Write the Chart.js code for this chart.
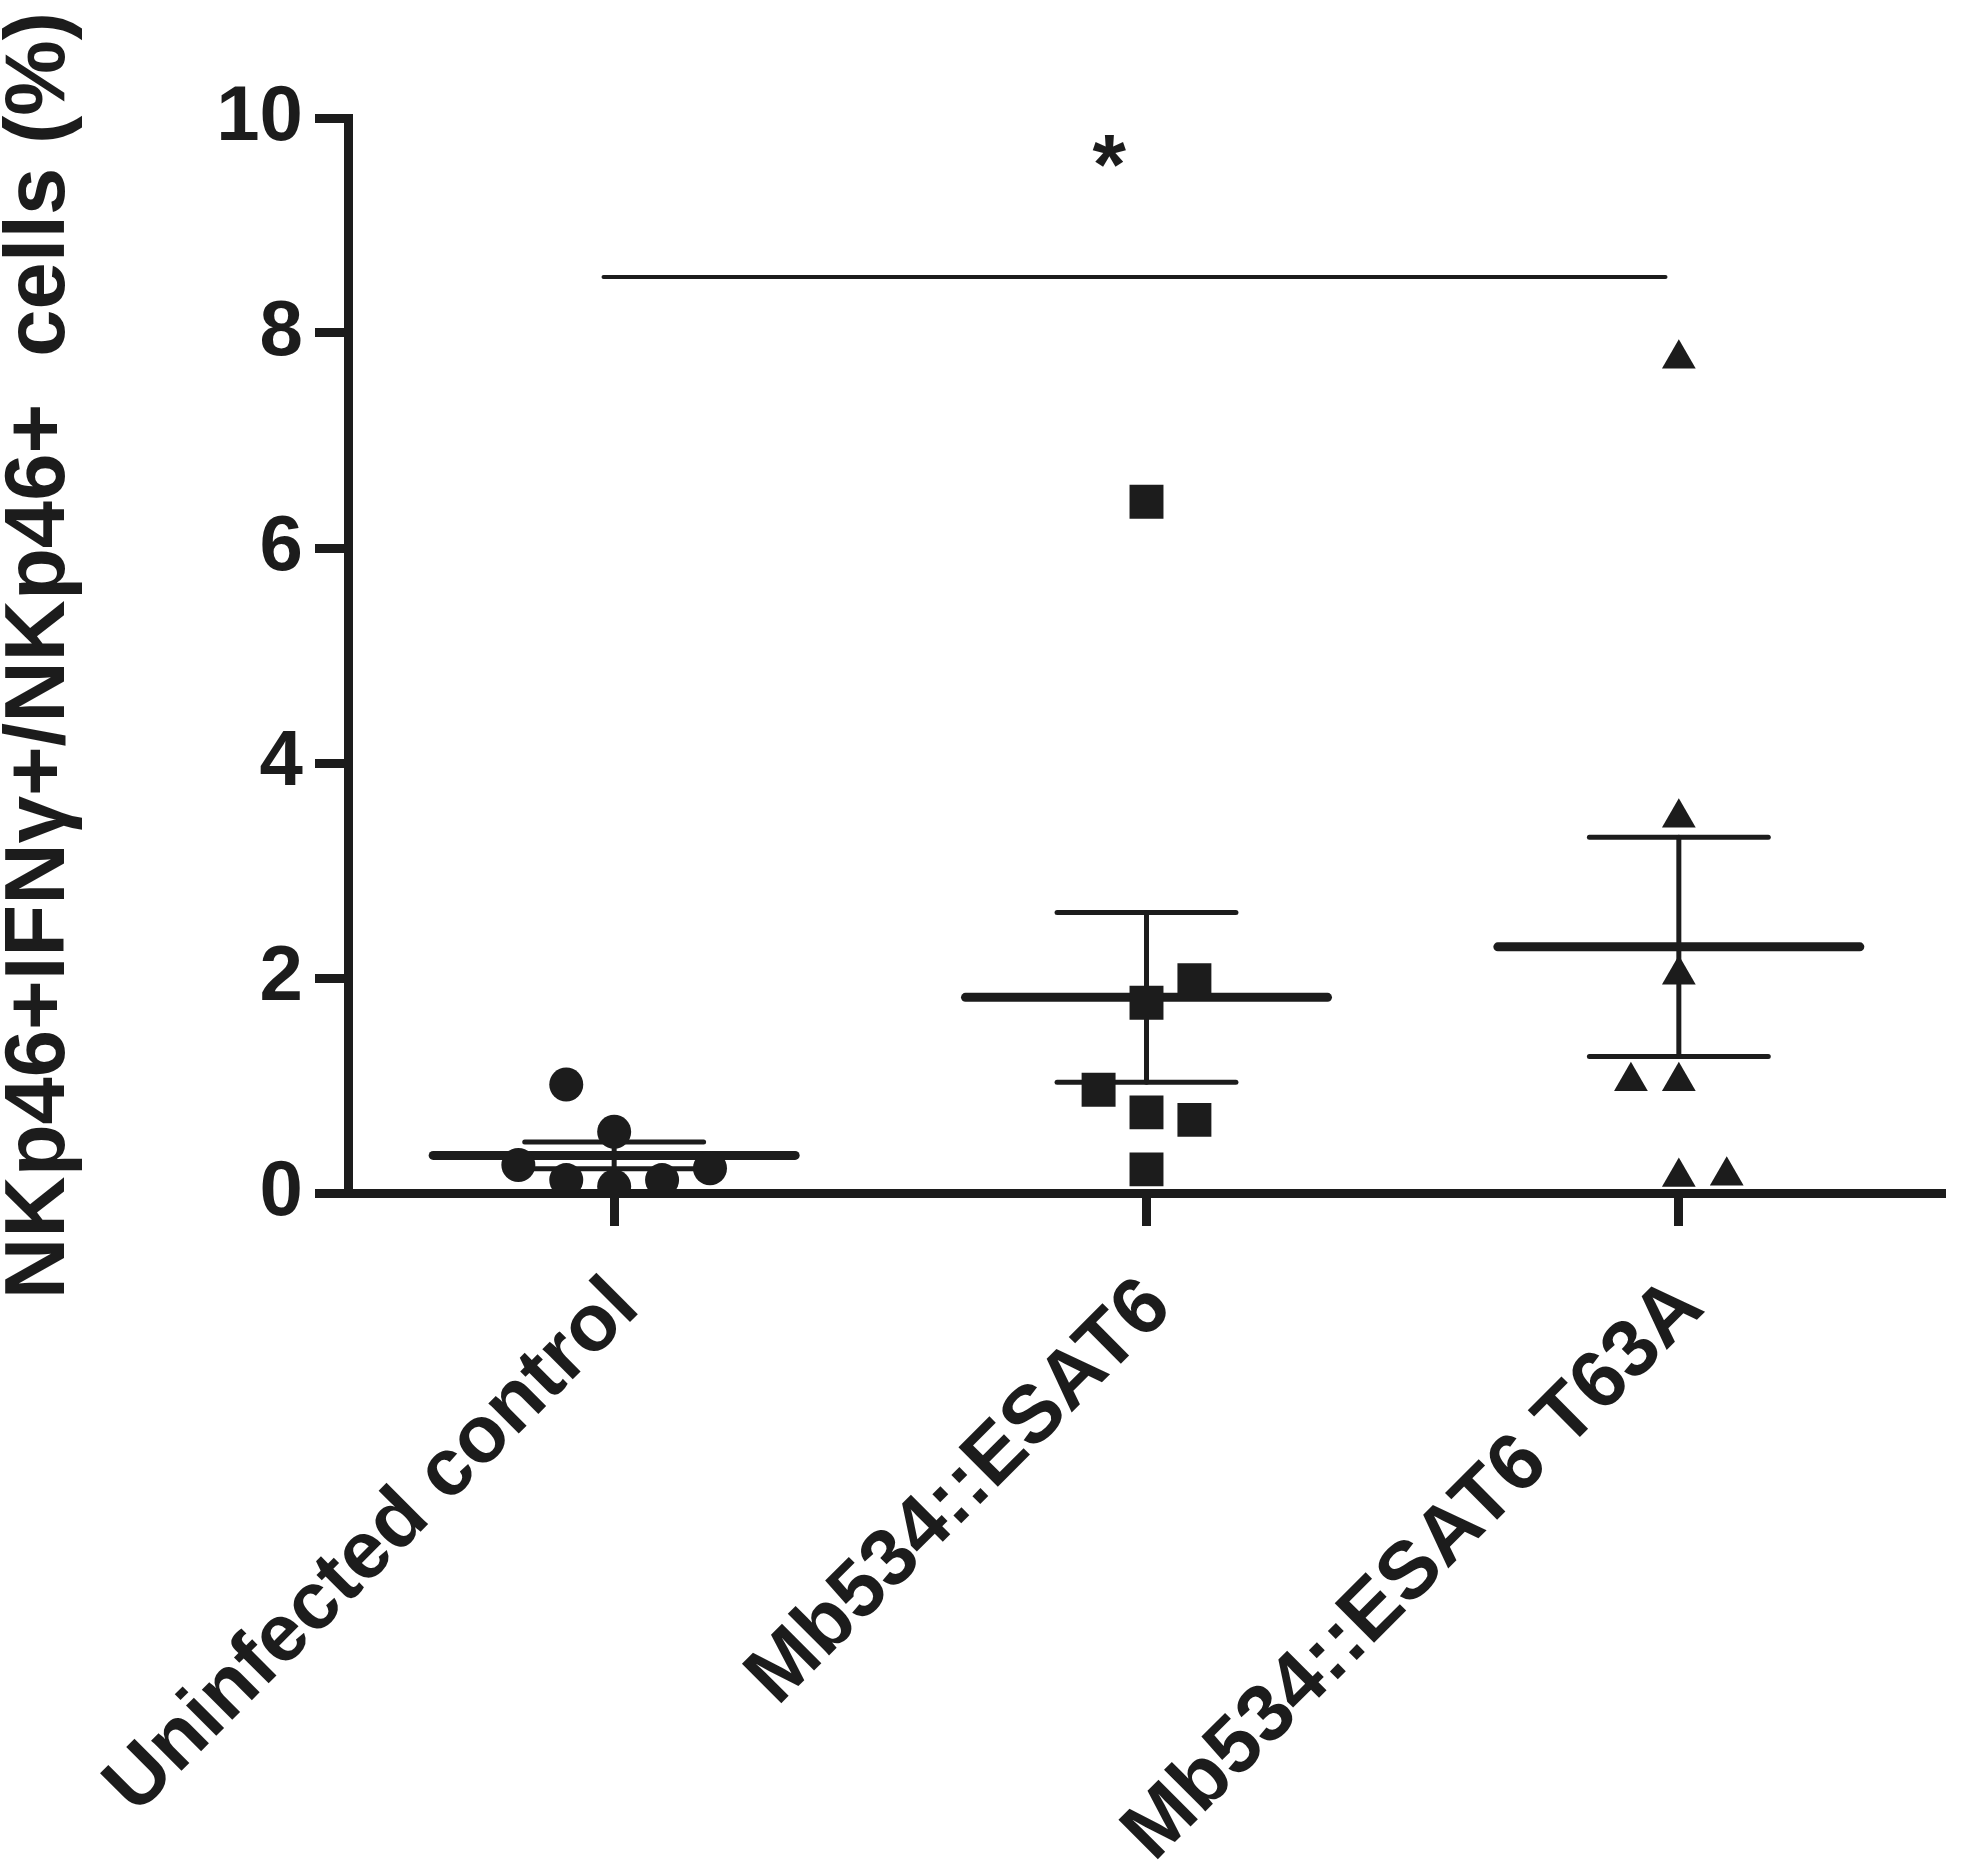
<!DOCTYPE html>
<html>
<head>
<meta charset="utf-8">
<script src="https://cdn.jsdelivr.net/npm/chart.js@4.4.1/dist/chart.umd.min.js"></script>
<style>
  html, body { margin: 0; padding: 0; background: #fff; }
  canvas { display: block; }
</style>
</head>
<body>
<canvas id="graph-canvas" width="1969" height="1864"></canvas>
<script>
// groups and tick labels
const categories = ["Uninfected control", "Mb534::ESAT6", "Mb534::ESAT6 T63A"];
const yTicks = [0, 2, 4, 6, 8, 10];

// individual animals (%), with their horizontal spread inside each column
const uninfected = [1.01, 0.57, 0.26, 0.12, 0.06, 0.12, 0.23];
const uninfectedJitter = [-0.09, 0, -0.18, -0.09, 0, 0.09, 0.18];
const esat6 = [6.43, 1.98, 1.77, 0.96, 0.75, 0.68, 0.22];
const esat6Jitter = [0, 0.09, 0, -0.09, 0, 0.09, 0];
const t63a = [7.76, 3.49, 2.03, 1.04, 1.04, 0.15, 0.16];
const t63aJitter = [0, 0, 0, -0.09, 0, 0, 0.09];

// mean +/- SEM per group
const means = [0.35, 1.82, 2.29];
const sems = [0.125, 0.79, 1.02];

// significance bar between group 0 and group 2
const sigFrom = 0;
const sigTo = 2;
const sigLevel = 8.52;
const sigLabel = "*";
const sigLabelLevel = 9.7;

const ink = '#1c1c1c';
const fontFamily = '"Liberation Sans", Arial, sans-serif';
const meanHalf = 0.34;
const capHalf = 0.168;

function points(values, jitter, group) {
    return values.map((v, i) => ({ x: group + jitter[i], y: v }));
}

function segment(x0, y0, x1, y1, width) {
    return {
        type: 'line',
        data: [{ x: x0, y: y0 }, { x: x1, y: y1 }],
        borderColor: ink,
        borderWidth: width,
        borderCapStyle: 'round',
        pointRadius: 0,
        pointHoverRadius: 0,
        fill: false,
        order: 2
    };
}

const datasets = [
    { type: 'scatter', label: categories[0], data: points(uninfected, uninfectedJitter, 0),
      pointStyle: 'circle', pointRadius: 17, backgroundColor: ink, borderColor: ink, borderWidth: 0, order: 1 },
    { type: 'scatter', label: categories[1], data: points(esat6, esat6Jitter, 1),
      pointStyle: 'rect', pointRadius: 24, backgroundColor: ink, borderColor: ink, borderWidth: 0, order: 1 },
    { type: 'scatter', label: categories[2], data: points(t63a, t63aJitter, 2),
      pointStyle: 'triangle', pointRadius: 19.5, backgroundColor: ink, borderColor: ink, borderWidth: 0, order: 1 }
];

for (var g = 0; g < means.length; g++)
    {
        const lo = means[g] - sems[g];
        const hi = means[g] + sems[g];
        datasets.push(segment(g - meanHalf, means[g], g + meanHalf, means[g], 9));
        datasets.push(segment(g, lo, g, hi, 5));
        datasets.push(segment(g - capHalf, lo, g + capHalf, lo, 5));
        datasets.push(segment(g - capHalf, hi, g + capHalf, hi, 5));
    };

datasets.push(segment(sigFrom - 0.02, sigLevel, sigTo - 0.025, sigLevel, 4));

const sigPlugin = {
    id: 'sigText',
    afterDatasetsDraw(chart)
    {
        const c = chart.ctx;
        const x = chart.scales.x;
        const y = chart.scales.y;
        c.save();
        c.fillStyle = ink;
        c.font = 'bold 86px ' + fontFamily;
        c.textAlign = 'center';
        c.textBaseline = 'middle';
        c.fillText(sigLabel, x.getPixelForValue((sigFrom + sigTo) / 2 - 0.07), y.getPixelForValue(sigLabelLevel) + 20);
        c.restore();
    }
};

const ctx = document.getElementById('graph-canvas');

var chart = new Chart(ctx,
    {
    type: 'scatter',
    data: { datasets: datasets },
    plugins: [sigPlugin],
    options:
    {
        responsive: false,
        animation: false,
        devicePixelRatio: 1,
        layout: { padding: { left: 0, right: 4, top: 118, bottom: 0 } },
        plugins: { legend: { display: false }, tooltip: { enabled: false } },
        scales:
        {
            x:
            {
                type: 'linear',
                min: -0.5,
                max: 2.5,
                afterBuildTicks: (scale) => { scale.ticks = categories.map((c, i) => ({ value: i })); },
                afterFit: (scale) => {
                    scale.height = 671;
                    scale.paddingLeft = 0;
                    scale.paddingRight = 0;
                },
                ticks:
                {
                    callback: (v) => categories[v],
                    minRotation: 45,
                    maxRotation: 45,
                    autoSkip: false,
                    padding: 34,
                    labelOffset: 12,
                    color: ink,
                    font: { family: fontFamily, size: 81, weight: 'bold' }
                },
                grid: { drawOnChartArea: false, drawTicks: true, tickLength: 33, tickWidth: 9, color: ink },
                border: { display: true, width: 9, color: ink }
            },
            y:
            {
                min: 0,
                max: 10,
                afterBuildTicks: (scale) => { scale.ticks = yTicks.map((v) => ({ value: v })); },
                afterFit: (scale) => { scale.width = 348; },
                ticks:
                {
                    padding: 12,
                    color: ink,
                    font: { family: fontFamily, size: 78, weight: 'bold' }
                },
                grid: { drawOnChartArea: false, drawTicks: true, tickLength: 33, tickWidth: 9, color: ink },
                border: { display: true, width: 9, color: ink },
                title:
                {
                    display: true,
                    text: 'NKp46+IFNγ+/NKp46+  cells (%)',
                    color: ink,
                    padding: 0,
                    font: { family: fontFamily, size: 85, weight: 'bold', lineHeight: 0.95 }
                }
            }
        }
    }
});
</script>
</body>
</html>
